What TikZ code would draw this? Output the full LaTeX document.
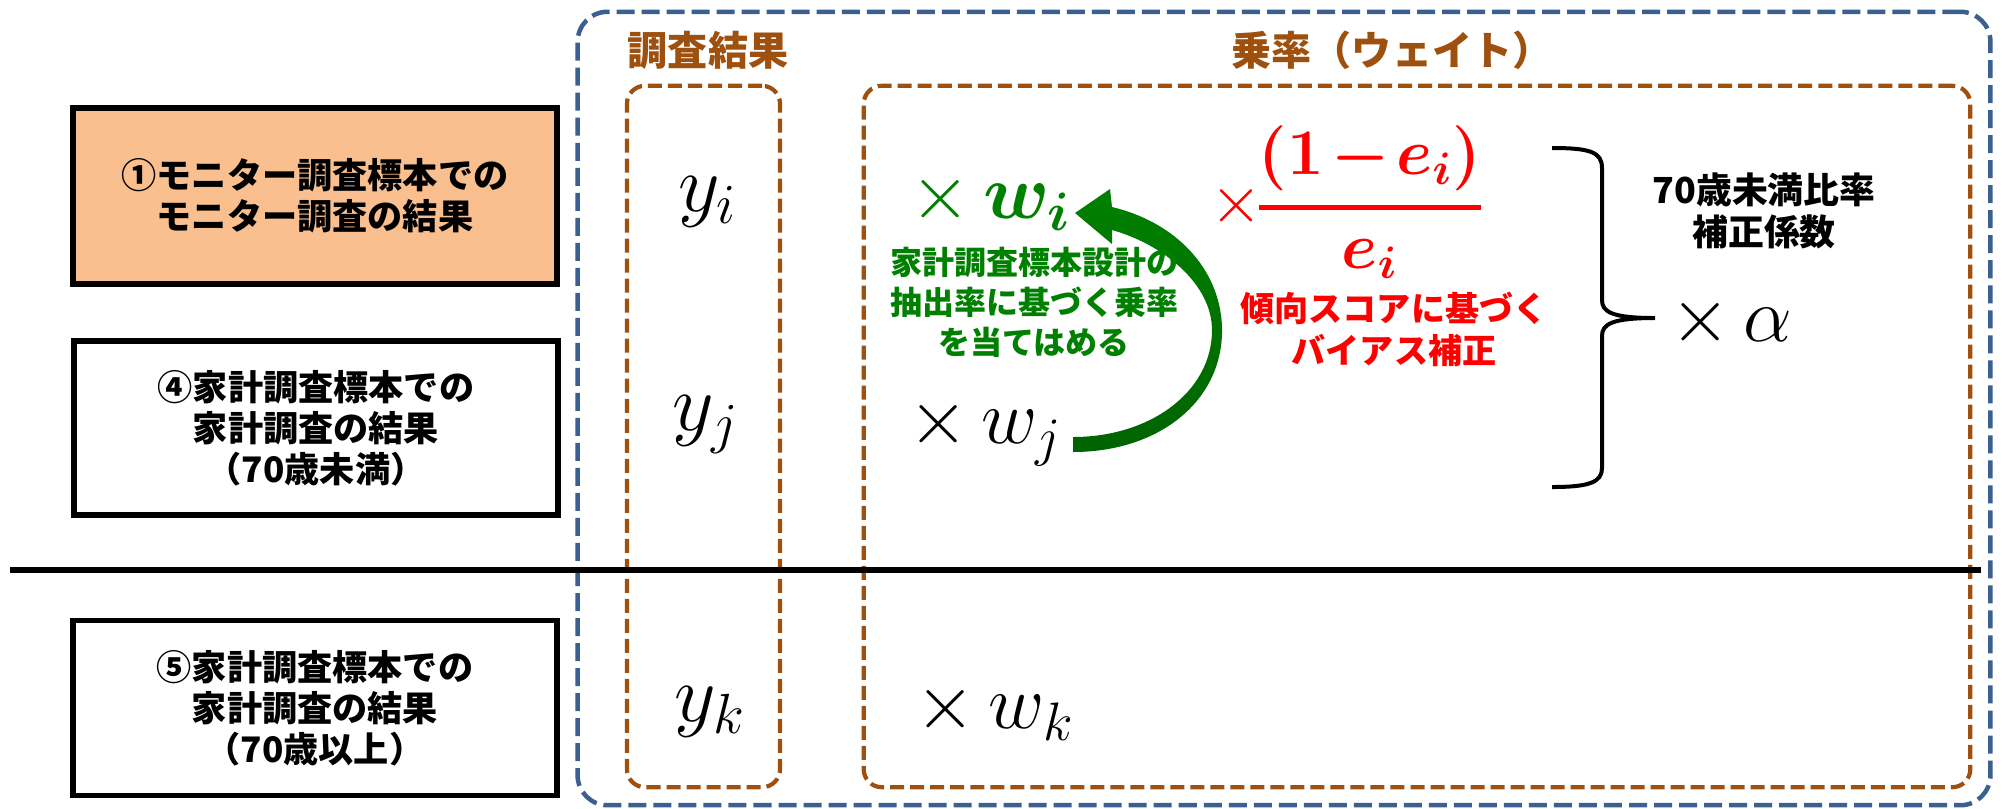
\RequirePackage{fix-cm}
\documentclass[tikz,border=0pt]{standalone}
\usepackage[no-math]{fontspec}
\setmainfont{Noto Sans CJK JP}
\usepackage{amsmath,bm}
\definecolor{bluedash}{RGB}{59,96,143}
\definecolor{brownc}{RGB}{158,80,15}
\definecolor{orfill}{RGB}{249,191,143}
\definecolor{gr}{RGB}{0,128,0}
\definecolor{grdark}{RGB}{0,100,0}
\definecolor{rd}{RGB}{255,0,0}
\begin{document}
\begin{tikzpicture}[x=0.01cm,y=-0.01cm,
  box/.style={draw=black, line width=0.055cm, minimum width=4.84cm, minimum height=1.76cm, align=center, inner sep=0pt, font=\fontsize{10}{11.7}\selectfont\bfseries},
  bluefr/.style={draw=bluedash, line width=0.045cm, dash pattern=on 0.18cm off 0.07cm, rounded corners=0.3cm, inner sep=0pt},
  brownfr/.style={draw=brownc, line width=0.042cm, dash pattern=on 0.14cm off 0.06cm, rounded corners=0.18cm, inner sep=0pt},
  hdr/.style={text=brownc, inner sep=0pt, font=\fontsize{11.4}{13}\selectfont\bfseries},
  mathbig/.style={inner sep=0pt, font=\fontsize{23}{28}\selectfont},
  mathw/.style={inner sep=0pt, font=\fontsize{22}{26}\selectfont},
  grtxt/.style={text=gr, align=center, inner sep=0pt, font=\fontsize{9.1}{11.4}\selectfont\bfseries},
  rdtxt/.style={text=rd, align=center, inner sep=0pt, font=\fontsize{9.7}{11.9}\selectfont\bfseries},
  bktxt/.style={align=center, inner sep=0pt, font=\fontsize{10.2}{11.9}\selectfont\bfseries}
]
\useasboundingbox (0,0) rectangle (2002,808);
% frames
\node[bluefr, minimum width=14.12cm, minimum height=7.93cm] (outer) at (1284,408.5) {};
\node[brownfr, minimum width=1.53cm, minimum height=7.01cm] (colres) at (703.5,436.5) {};
\node[brownfr, minimum width=11.06cm, minimum height=7.01cm] (colwt) at (1417,436.5) {};
\node[hdr] (h1) at (708,50) {調査結果};
\node[hdr] (h2) at (1392,50) {乗率（ウェイト）};
% left boxes
\node[box, fill=orfill] (b1) at (315,196) {①モニター調査標本での\\モニター調査の結果};
\node[box, minimum height=1.74cm] (b4) at (316,428) {④家計調査標本での\\家計調査の結果\\（70歳未満）};
\node[box, minimum height=1.75cm] (b5) at (315,708) {⑤家計調査標本での\\家計調査の結果\\（70歳以上）};
% separator
\coordinate (sepL) at (10,570);
\coordinate (sepR) at (1981,570);
\draw[line width=0.055cm] (sepL) -- (sepR);
% results
\node[mathbig] (yi) at (708,202) {$y_i$};
\node[mathbig] (yj) at (706,425) {$y_j$};
\node[mathbig] (yk) at (710,712) {$y_k$};
% weights
\node[mathw, text=gr] (wi) at (991,202) {$\times\,\bm{w}_{\bm{i}}$};
\node[mathw] (wj) at (985,432) {$\times\,w_j$};
\node[mathw] (wk) at (995,712) {$\times\,w_k$};
% green curved arrow
\shade[top color=gr, bottom color=grdark]
  (1073,452) .. controls (1160,452) and (1224,400) .. (1222,327)
  .. controls (1220,268) and (1175,222) .. (1112,207)
  -- (1110,189) -- (1075,213) -- (1112,244) -- (1112,230)
  .. controls (1165,245) and (1212,285) .. (1212,330)
  .. controls (1212,392) and (1150,437) .. (1073,437) -- cycle;
\node[grtxt] (gtxt) at (1034,302) {家計調査標本設計の\\抽出率に基づく乗率\\を当てはめる};
% propensity fraction
\node[text=rd, inner sep=0pt, font=\fontsize{19}{22}\selectfont] (tx) at (1236,206) {$\times$};
\node[text=rd, inner sep=0pt, font=\fontsize{18.5}{22}\selectfont] (fr) at (1370,202) {$\medmuskip=2mu\genfrac{}{}{1.4pt}{0}{\bm{(}\mathbf{1}\bm{-}\bm{e}_{\bm{i}}\bm{)}}{\bm{e}_{\bm{i}}}$};
\node[rdtxt] (rtxt) at (1394,329) {傾向スコアに基づく\\バイアス補正};
% brace
\draw[line width=0.04cm]
  (1552,148) .. controls (1590,148) and (1602,152) .. (1602,168) -- (1602,300)
  .. controls (1602,312) and (1612,318) .. (1655,318)
  .. controls (1612,318) and (1602,324) .. (1602,336) -- (1602,468)
  .. controls (1602,482) and (1590,487) .. (1552,487);
\node[bktxt] (alpha-lbl) at (1764,211) {70歳未満比率\\補正係数};
\node[mathw] (alpha) at (1731,322) {$\times\,\alpha$};
\end{tikzpicture}
\end{document}
